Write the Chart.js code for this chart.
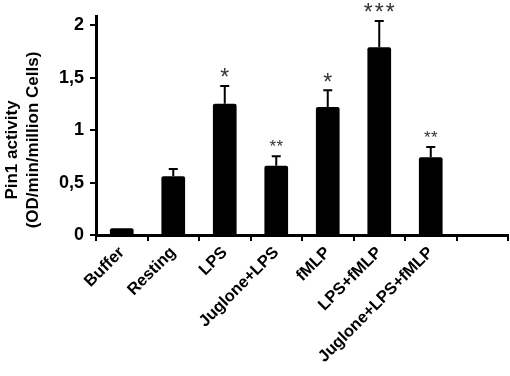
<!DOCTYPE html>
<html>
<head>
<meta charset="utf-8">
<script src="https://cdn.jsdelivr.net/npm/chart.js@4"></script>
<style>
  html, body { margin: 0; padding: 0; background: #fff; }
  #wrap { width: 510px; height: 376px; position: relative; }
</style>
</head>
<body>
<div id="wrap"><canvas id="pinChart"></canvas></div>
<script>
// Pin1 activity per treatment
const categories = ["Buffer", "Resting", "LPS", "Juglone+LPS", "fMLP", "LPS+fMLP", "Juglone+LPS+fMLP", ""];
const activity = [0.065, 0.56, 1.25, 0.66, 1.22, 1.79, 0.74, null];
const errors = [0, 0.07, 0.17, 0.09, 0.16, 0.25, 0.1, 0];
const stars = ["", "", "*", "**", "*", "***", "**", ""];
const yTicks = [0, 0.5, 1, 1.5, 2];
const yTitle = ["Pin1 activity", "(OD/min/million Cells)"];

const FONT = "'Liberation Sans', Arial, sans-serif";

// draws the upper error bar and the significance stars
const errorBarPlugin = {
  id: "errorBars",
  afterDatasetsDraw(chart) {
    const ctx = chart.ctx;
    const meta = chart.getDatasetMeta(0);
    const y = chart.scales.y;
    ctx.save();
    meta.data.forEach((bar, i) => {
      const v = activity[i];
      if (v == null) return;
      const top = y.getPixelForValue(v + errors[i]);
      if (errors[i] > 0) {
        ctx.strokeStyle = "#000";
        ctx.lineWidth = 2;
        ctx.beginPath();
        ctx.moveTo(bar.x, bar.y);
        ctx.lineTo(bar.x, top);
        ctx.moveTo(bar.x - 4.5, top);
        ctx.lineTo(bar.x + 4.5, top);
        ctx.stroke();
      }
      const s = stars[i];
      if (s) {
        const size = s.length === 2 ? 17 : 23;
        const gap = s.length === 2 ? 7 : 11;
        ctx.fillStyle = "#333";
        ctx.font = size + "px " + FONT;
        ctx.textAlign = "center";
        ctx.textBaseline = "alphabetic";
        // asterisk glyph sits ~0.58em above the baseline
        const base = top - 14 + size * 0.58;
        const start = bar.x - (gap * (s.length - 1)) / 2;
        for (let k = 0; k < s.length; k++) {
          ctx.fillText("*", start + k * gap, base);
        }
      }
    });
    ctx.restore();
  },
};

// two line rotated y title
const yTitlePlugin = {
  id: "yTitle",
  afterDraw(chart) {
    const ctx = chart.ctx;
    ctx.save();
    ctx.fillStyle = "#000";
    ctx.font = "bold 17px " + FONT;
    ctx.textAlign = "center";
    ctx.textBaseline = "middle";
    ctx.translate(12, 146);
    ctx.rotate(-Math.PI / 2);
    ctx.fillText(yTitle[0], -4, 0);
    ctx.fillText(yTitle[1], 6, 21);
    ctx.restore();
  },
};

new Chart(document.getElementById("pinChart"), {
  type: "bar",
  data: {
    labels: categories,
    datasets: [
      {
        data: activity,
        backgroundColor: "#000",
        borderRadius: 2,
        borderSkipped: "bottom",
        barPercentage: 0.46,
        categoryPercentage: 1,
      },
    ],
  },
  options: {
    responsive: true,
    maintainAspectRatio: false,
    animation: false,
    layout: { padding: { top: 11, right: 2, left: 0, bottom: 0 } },
    plugins: {
      legend: { display: false },
      tooltip: { enabled: false },
    },
    scales: {
      x: {
        grid: {
          display: true,
          offset: true,
          drawOnChartArea: false,
          color: "#000",
          lineWidth: 2,
          tickLength: 6,
        },
        border: { display: true, color: "#000", width: 3 },
        ticks: {
          color: "#000",
          font: { family: FONT, size: 16.5, weight: "bold" },
          minRotation: 45,
          maxRotation: 45,
          padding: 2,
        },
        afterFit(scale) {
          scale.height = 141;
        },
      },
      y: {
        min: 0,
        max: 2.08,
        grid: {
          display: true,
          drawOnChartArea: false,
          color: "#000",
          lineWidth: 2,
          tickLength: 6,
        },
        border: { display: true, color: "#000", width: 3 },
        ticks: {
          color: "#000",
          font: { family: FONT, size: 18, weight: "bold" },
          padding: 6,
          callback: (v) => String(v).replace(".", ","),
        },
        afterBuildTicks(scale) {
          scale.ticks = yTicks.map((v) => ({ value: v }));
        },
        afterFit(scale) {
          scale.width = 96;
        },
      },
    },
  },
  plugins: [errorBarPlugin, yTitlePlugin],
});
</script>
</body>
</html>
